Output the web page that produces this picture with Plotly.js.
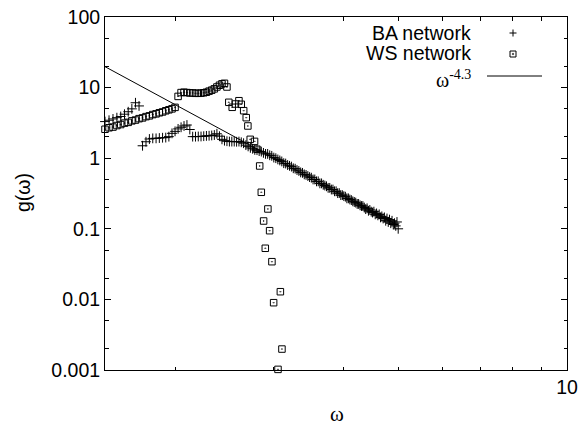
<!DOCTYPE html>
<html>
<head>
<meta charset="utf-8">
<script src="https://cdn.plot.ly/plotly-3.0.1.min.js"></script>
<style>html,body{margin:0;padding:0;background:#fff;}#chart{width:582px;height:428px;}</style>
</head>
<body>
<div id="chart"></div>
<script>
// ---- BA network ----
const baW = [
  1.500,1.525,1.550,1.575,1.600,1.625,1.650,1.675,1.700,1.725,
  1.750,1.775,1.800,1.825,1.850,1.875,1.900,1.925,1.950,1.975,
  2.000,2.025,2.050,2.075,2.100,2.125,2.150,2.175,2.200,2.225,
  2.250,2.275,2.300,2.325,2.350,2.375,2.400,2.425,2.450,2.475,
  2.500,2.525,2.550,2.575,2.600,2.625,2.650,2.675,2.700,2.725,
  2.750,2.775,2.800,2.825,2.850,2.875,2.900,
  2.925,2.950,2.975,3.000,3.025,3.050,3.075,3.100,3.125,3.150,
  3.175,3.200,3.225,3.250,3.275,3.300,3.325,3.350,3.375,3.400,
  3.425,3.450,3.475,3.500,3.525,3.550,3.575,3.600,3.625,3.650,
  3.675,3.700,3.725,3.750,3.775,3.800,3.825,3.850,3.875,3.900,
  3.925,3.950,3.975,4.000,4.025,4.050,4.075,4.100,4.125,4.150,
  4.175,4.200,4.225,4.250,4.275,4.300,4.325,4.350,4.375,4.400,
  4.425,4.450,4.475,4.500,4.525,4.550,4.575,4.600,4.625,4.650,
  4.675,4.700,4.725,4.750,4.775,4.800,4.825,4.850,4.875,4.900,
  4.925,4.950,4.975,5.000
];
const baG = [
  3.30,3.45,3.60,3.75,3.90,4.20,4.55,5.00,6.10,5.50,
  1.50,1.71,1.87,1.91,1.91,1.93,1.95,1.96,2.02,2.25,
  2.40,2.60,2.74,2.86,2.95,2.55,2.02,2.02,2.03,2.03,
  2.05,2.07,2.08,2.10,2.13,2.22,2.05,1.85,1.77,1.74,
  1.72,1.72,1.72,1.71,1.72,1.68,1.63,1.53,1.47,1.40,
  1.36,1.31,1.30,1.26,1.24,1.19,1.15,
  1.15,1.10,1.08,1.02,1.00,0.96,0.93,0.90,0.85,0.84,
  0.80,0.78,0.76,0.72,0.71,0.68,0.66,0.63,0.62,0.59,
  0.58,0.56,0.54,0.53,0.50,0.50,0.47,0.47,0.44,0.44,
  0.42,0.41,0.40,0.38,0.38,0.36,0.36,0.34,0.34,0.32,
  0.32,0.30,0.30,0.29,0.285,0.27,0.27,0.26,0.255,0.245,
  0.24,0.235,0.225,0.225,0.215,0.21,0.21,0.20,0.19,0.195,
  0.18,0.185,0.175,0.17,0.175,0.16,0.165,0.155,0.16,0.145,
  0.15,0.14,0.145,0.13,0.14,0.125,0.135,0.12,0.13,0.115,
  0.12,0.11,0.125,0.10
];

// ---- WS network ----
const wsW = [
  1.500,1.525,1.550,1.575,1.600,1.625,1.650,1.675,1.700,1.725,
  1.750,1.775,1.800,1.825,1.850,1.875,1.900,1.925,1.950,1.975,
  2.000,2.025,2.050,2.075,2.100,2.125,2.150,2.175,2.200,2.225,
  2.250,2.275,2.300,2.325,2.350,2.375,2.400,2.425,2.450,2.475,
  2.494,2.529,2.563,2.600,2.625,2.651,2.679,2.697,2.723,2.772,
  2.799,2.831,2.850,2.877,2.897,2.928,2.949,2.977,2.998,3.052,
  3.082,3.102
];
const wsG = [
  2.57,2.70,2.76,2.90,3.00,3.14,3.22,3.38,3.47,3.63,
  3.72,3.88,3.98,4.15,4.25,4.40,4.52,4.70,4.85,5.00,
  5.25,7.50,8.50,8.60,8.50,8.40,8.40,8.30,8.30,8.35,
  8.45,8.60,8.90,9.20,9.60,10.2,10.8,11.3,11.5,10.2,
  6.19,5.26,5.86,6.52,5.80,4.71,3.75,2.86,1.85,1.73,
  1.34,0.776,0.329,0.129,0.053,0.191,0.094,0.0342,0.00898,0.00102,
  0.01285,0.00198
];

// ---- fit omega^-4.3 ----
const fitW = [1.5, 4.9];
const fitG = [19.8, 0.122];

// ---- ticks ----
const yTickVals = [0.001, 0.01, 0.1, 1, 10, 100];
const yTickText = ['0.001', '0.01', '0.1', '1', '10', '100'];
const yMinorVals = [0.002,0.005,0.02,0.05,0.2,0.5,2,5,20,50];
const xTickVals = [10];
const xTickText = ['10'];
const xMinorVals = [2,3,4,5,6,7,8,9];

const xTitle = 'ω';
const yTitle = 'g(ω)';
const legendLabels = ['BA network', 'WS network', 'ω<sup>-4.3</sup>'];

const FONT = 'Liberation Sans, Arial, Helvetica, sans-serif';
const SERIF = 'Liberation Serif, DejaVu Serif, serif';

const traces = [
  {x: baW, y: baG, type: 'scatter', mode: 'markers', cliponaxis: false,
   marker: {symbol: 'cross-thin-open', size: 7, color: 'black', line: {width: 1, color: 'black'}}},
  {x: wsW, y: wsG, type: 'scatter', mode: 'markers', cliponaxis: false,
   marker: {symbol: 'square-open-dot', size: 6.5, color: 'black', line: {width: 1, color: 'black'}}},
  {x: fitW, y: fitG, type: 'scatter', mode: 'lines', line: {color: 'black', width: 1}}
];

// pixel geometry of plot area: left 105, right 567, top 17, bottom 370
const L = 105, R = 567, T = 17, B = 370;
const px = v => (v - L) / (R - L);
const py = v => (B - v) / (B - T);

const layout = {
  width: 582, height: 428,
  margin: {l: L, r: 582 - R, t: T, b: 428 - B, pad: 0},
  paper_bgcolor: 'white', plot_bgcolor: 'white',
  showlegend: false,
  font: {family: FONT, size: 19.5, color: 'black'},
  xaxis: {
    type: 'log', range: [Math.log10(1.5), 1], automargin: false,
    tickmode: 'array', tickvals: xTickVals, ticktext: xTickText,
    ticks: 'inside', ticklen: 6, tickwidth: 1, tickcolor: 'black',
    minor: {tickmode: 'array', tickvals: xMinorVals, ticks: 'inside', ticklen: 3.5, tickwidth: 1, tickcolor: 'black'},
    showline: true, linecolor: 'black', linewidth: 1, mirror: 'ticks',
    showgrid: false, zeroline: false,
    tickfont: {family: FONT, size: 19.5, color: 'black'}
  },
  yaxis: {
    type: 'log', range: [-3, 2], automargin: false,
    tickmode: 'array', tickvals: yTickVals, ticktext: yTickText,
    ticks: 'inside', ticklen: 6, tickwidth: 1, tickcolor: 'black',
    minor: {tickmode: 'array', tickvals: yMinorVals, ticks: 'inside', ticklen: 3.5, tickwidth: 1, tickcolor: 'black'},
    showline: true, linecolor: 'black', linewidth: 1, mirror: 'ticks',
    showgrid: false, zeroline: false,
    tickfont: {family: FONT, size: 19.5, color: 'black'}
  },
  annotations: [
    {xref: 'paper', yref: 'paper', x: px(337), y: py(414), xanchor: 'center', yanchor: 'middle',
     text: xTitle, showarrow: false, font: {family: SERIF, size: 21, color: 'black'}},
    {xref: 'paper', yref: 'paper', x: px(23), y: py(193), xanchor: 'center', yanchor: 'middle', textangle: -90,
     text: yTitle, showarrow: false, font: {family: FONT, size: 19.5, color: 'black'}},
    {xref: 'paper', yref: 'paper', x: px(473), y: py(33), xanchor: 'right', yanchor: 'middle',
     text: legendLabels[0], showarrow: false, font: {family: FONT, size: 19.5, color: 'black'}},
    {xref: 'paper', yref: 'paper', x: px(473), y: py(53), xanchor: 'right', yanchor: 'middle',
     text: legendLabels[1], showarrow: false, font: {family: FONT, size: 19.5, color: 'black'}},
    {xref: 'paper', yref: 'paper', x: px(473), y: py(79), xanchor: 'right', yanchor: 'middle',
     text: legendLabels[2], showarrow: false, font: {family: SERIF, size: 20, color: 'black'}}
  ],
  shapes: [
    // "+" sample
    {type: 'line', xref: 'paper', yref: 'paper', xsizemode: 'pixel', ysizemode: 'pixel',
     xanchor: px(513), yanchor: py(33), x0: -3.5, x1: 3.5, y0: 0, y1: 0, line: {color: 'black', width: 1}},
    {type: 'line', xref: 'paper', yref: 'paper', xsizemode: 'pixel', ysizemode: 'pixel',
     xanchor: px(513), yanchor: py(33), x0: 0, x1: 0, y0: -3.5, y1: 3.5, line: {color: 'black', width: 1}},
    // boxed dot sample
    {type: 'rect', xref: 'paper', yref: 'paper', xsizemode: 'pixel', ysizemode: 'pixel',
     xanchor: px(513), yanchor: py(54), x0: -3, x1: 3, y0: -3, y1: 3, line: {color: 'black', width: 1}},
    {type: 'rect', xref: 'paper', yref: 'paper', xsizemode: 'pixel', ysizemode: 'pixel',
     xanchor: px(513), yanchor: py(54), x0: -0.6, x1: 0.6, y0: -0.6, y1: 0.6, fillcolor: 'black', line: {color: 'black', width: 0.5}},
    // line sample
    {type: 'line', xref: 'paper', yref: 'paper', x0: px(487), x1: px(542), y0: py(76), y1: py(76),
     line: {color: 'black', width: 1}}
  ]
};

Plotly.newPlot('chart', traces, layout, {staticPlot: true, displayModeBar: false});
</script>
</body>
</html>
